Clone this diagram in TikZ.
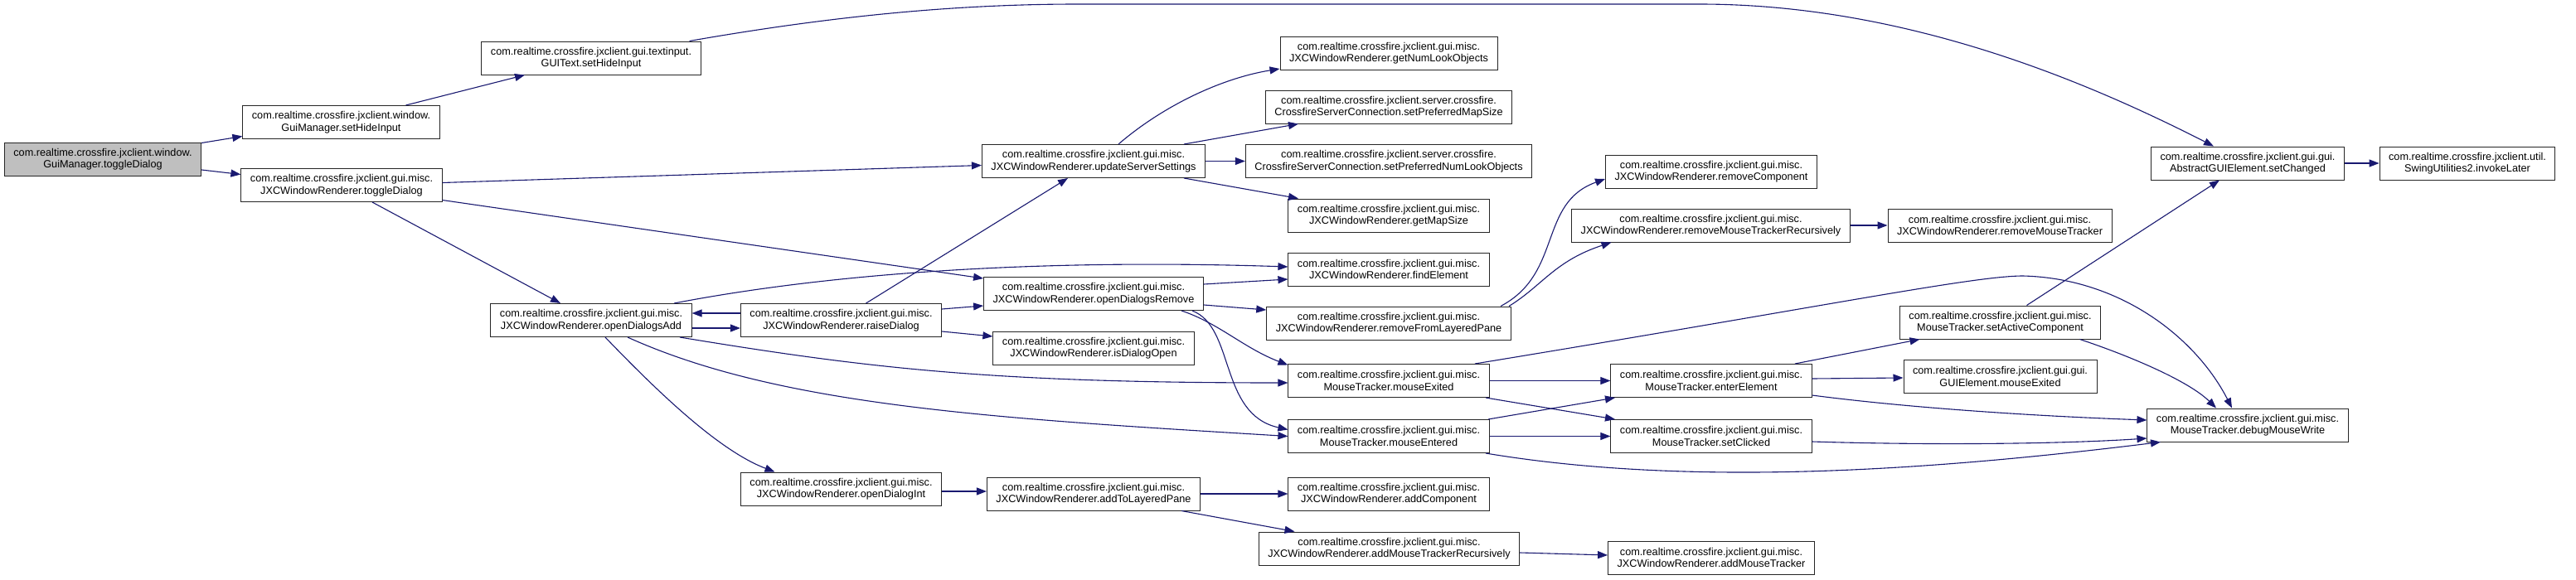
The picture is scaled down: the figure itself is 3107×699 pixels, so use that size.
\documentclass[tikz,border=0pt]{standalone}
\usepackage{fontspec}
\setmainfont{Liberation Sans}
\usepackage{xcolor}
\usepackage{tikz}
\usetikzlibrary{arrows.meta,calc}
\definecolor{edgeblue}{RGB}{25,25,112}

\begin{document}
\begin{tikzpicture}[x=1pt,y=-1pt,
      box/.style={rectangle,draw=black!85,line width=1pt,fill=white,align=center,inner xsep=11pt,inner ysep=3pt,minimum height=40pt,font=\fontsize{12.7}{14.5}\selectfont},
      startbox/.style={box,fill=black!25},
      call/.style={draw=edgeblue,line width=1.1pt,-{Triangle[length=12pt,width=9pt]}}
    ]
    \useasboundingbox (0,0) rectangle (3107,699);

    % nodes
    \node[startbox] (start) at (124,192) {com.realtime.crossfire.jxclient.window.\\GuiManager.toggleDialog};
    \node[box] (gmhide) at (411.5,147.5) {com.realtime.crossfire.jxclient.window.\\GuiManager.setHideInput};
    \node[box] (jtoggle) at (412,223.5) {com.realtime.crossfire.jxclient.gui.misc.\\JXCWindowRenderer.toggleDialog};
    \node[box] (guitext) at (713,70) {com.realtime.crossfire.jxclient.gui.textinput.\\GUIText.setHideInput};
    \node[box] (odadd) at (713,386.5) {com.realtime.crossfire.jxclient.gui.misc.\\JXCWindowRenderer.openDialogsAdd};
    \node[box] (raise) at (1014.5,386.5) {com.realtime.crossfire.jxclient.gui.misc.\\JXCWindowRenderer.raiseDialog};
    \node[box] (odint) at (1014.5,590) {com.realtime.crossfire.jxclient.gui.misc.\\JXCWindowRenderer.openDialogInt};
    \node[box] (update) at (1319,194.5) {com.realtime.crossfire.jxclient.gui.misc.\\JXCWindowRenderer.updateServerSettings};
    \node[box] (odremove) at (1319,354.5) {com.realtime.crossfire.jxclient.gui.misc.\\JXCWindowRenderer.openDialogsRemove};
    \node[box] (isopen) at (1319,420) {com.realtime.crossfire.jxclient.gui.misc.\\JXCWindowRenderer.isDialogOpen};
    \node[box] (addlp) at (1319,596) {com.realtime.crossfire.jxclient.gui.misc.\\JXCWindowRenderer.addToLayeredPane};
    \node[box] (getnum) at (1675,64) {com.realtime.crossfire.jxclient.gui.misc.\\JXCWindowRenderer.getNumLookObjects};
    \node[box] (setmap) at (1675,129) {com.realtime.crossfire.jxclient.server.crossfire.\\CrossfireServerConnection.setPreferredMapSize};
    \node[box] (setnum) at (1675,194.5) {com.realtime.crossfire.jxclient.server.crossfire.\\CrossfireServerConnection.setPreferredNumLookObjects};
    \node[box] (getmap) at (1675,260) {com.realtime.crossfire.jxclient.gui.misc.\\JXCWindowRenderer.getMapSize};
    \node[box] (find) at (1675,325) {com.realtime.crossfire.jxclient.gui.misc.\\JXCWindowRenderer.findElement};
    \node[box] (removelp) at (1675,390) {com.realtime.crossfire.jxclient.gui.misc.\\JXCWindowRenderer.removeFromLayeredPane};
    \node[box] (mexit) at (1675,459.5) {com.realtime.crossfire.jxclient.gui.misc.\\MouseTracker.mouseExited};
    \node[box] (menter) at (1675,526.5) {com.realtime.crossfire.jxclient.gui.misc.\\MouseTracker.mouseEntered};
    \node[box] (addcomp) at (1675,596) {com.realtime.crossfire.jxclient.gui.misc.\\JXCWindowRenderer.addComponent};
    \node[box] (addmtr) at (1675.5,662) {com.realtime.crossfire.jxclient.gui.misc.\\JXCWindowRenderer.addMouseTrackerRecursively};
    \node[box] (removecomp) at (2064,207) {com.realtime.crossfire.jxclient.gui.misc.\\JXCWindowRenderer.removeComponent};
    \node[box] (removemtr) at (2063.5,272) {com.realtime.crossfire.jxclient.gui.misc.\\JXCWindowRenderer.removeMouseTrackerRecursively};
    \node[box] (enter) at (2064,459.5) {com.realtime.crossfire.jxclient.gui.misc.\\MouseTracker.enterElement};
    \node[box] (clicked) at (2064,526.5) {com.realtime.crossfire.jxclient.gui.misc.\\MouseTracker.setClicked};
    \node[box] (addmt) at (2064,673) {com.realtime.crossfire.jxclient.gui.misc.\\JXCWindowRenderer.addMouseTracker};
    \node[box] (removemt) at (2412,272) {com.realtime.crossfire.jxclient.gui.misc.\\JXCWindowRenderer.removeMouseTracker};
    \node[box] (setactive) at (2412.5,389) {com.realtime.crossfire.jxclient.gui.misc.\\MouseTracker.setActiveComponent};
    \node[box] (guiexit) at (2412.5,454.5) {com.realtime.crossfire.jxclient.gui.gui.\\GUIElement.mouseExited};
    \node[box] (setchanged) at (2711,197) {com.realtime.crossfire.jxclient.gui.gui.\\AbstractGUIElement.setChanged};
    \node[box] (debug) at (2711,513) {com.realtime.crossfire.jxclient.gui.misc.\\MouseTracker.debugMouseWrite};
    \node[box] (invoke) at (2976,197) {com.realtime.crossfire.jxclient.util.\\SwingUtilities2.invokeLater};

    % calls
    \draw[call] ([yshift=-1pt]start.north east) -- ([yshift=-17pt]gmhide.west);
    \draw[call] ([yshift=-13pt]start.east) -- ([yshift=13pt]jtoggle.west);
    \draw[call] ([xshift=78pt]gmhide.north) -- ([xshift=-80pt]guitext.south);
    \draw[call] ([xshift=-14pt]guitext.north east) .. controls (1000,20) and (1150,5) .. (1300,5)
      -- (2050,5) .. controls (2300,5) and (2520,100) .. ([xshift=-41pt]setchanged.north);
    \draw[call] ([yshift=3pt]jtoggle.east) -- ([yshift=-5pt]update.west);
    \draw[call] ([yshift=-18pt]jtoggle.east) -- ([yshift=-2pt]odremove.north west);
    \draw[call] ([xshift=37pt]jtoggle.south) -- ([xshift=-37pt]odadd.north);
    \draw[call] ([yshift=-9.5pt]odadd.east) -- ([yshift=-9.5pt]raise.west);
    \draw[call] ([yshift=8.5pt]raise.west) -- ([yshift=8.5pt]odadd.east);
    \draw[call] ([xshift=30pt]raise.north) -- ([xshift=-31pt]update.south);
    \draw[call] ([yshift=13.5pt]raise.east) -- ([yshift=-14.5pt]odremove.west);
    \draw[call] ([yshift=-13.5pt]raise.east) -- ([yshift=14pt]isopen.west);
    \draw[call] ([xshift=100pt]odadd.north) .. controls (1000,330) and (1250,312) .. ([yshift=3pt]find.west);
    \draw[call] ([xshift=107pt]odadd.south) .. controls (1050,445) and (1200,462) .. ([yshift=-2.5pt]mexit.west);
    \draw[call] ([xshift=44pt]odadd.south) .. controls (940,490) and (1200,505) .. (menter.west);
    \draw[call] ([xshift=17pt]odadd.south) .. controls (800,480) and (870,545) .. ([xshift=-80pt]odint.north);
    \draw[call] ([yshift=-3pt]odint.east) -- ([yshift=3pt]addlp.west);
    \draw[call] (addlp.east) -- (addcomp.west);
    \draw[call] ([xshift=106pt]addlp.south) -- ([xshift=-114pt]addmtr.north);
    \draw[call] ([yshift=-5pt]addmtr.east) -- ([yshift=3pt]addmt.west);
    \draw[call] ([xshift=30pt]update.north) .. controls (1400,130) and (1470,95) .. ([yshift=-19pt]getnum.west);
    \draw[call] ([xshift=109pt]update.north) -- ([xshift=-109pt]setmap.south);
    \draw[call] (update.east) -- (setnum.west);
    \draw[call] ([xshift=109pt]update.south) -- ([xshift=-109pt]getmap.north);
    \draw[call] ([yshift=11.5pt]odremove.east) -- ([yshift=-12pt]find.west);
    \draw[call] ([yshift=-13.5pt]odremove.east) -- ([yshift=16pt]removelp.west);
    \draw[call] ([xshift=106pt]odremove.south) .. controls (1470,390) and (1500,420) .. ([yshift=19pt]mexit.west);
    \draw[call] ([xshift=119pt]odremove.south) .. controls (1490,395) and (1470,500) .. ([yshift=8pt]menter.west);
    \draw[call] ([xshift=135pt]removelp.north) .. controls (1885,330) and (1855,245) .. ([yshift=-9pt]removecomp.west);
    \draw[call] ([xshift=145pt]removelp.north) .. controls (1860,345) and (1875,315) .. ([xshift=-120pt]removemtr.south);
    \draw[call] (removemtr.east) -- (removemt.west);
    \draw[call] (mexit.east) -- (enter.west);
    \draw[call] ([xshift=117pt]mexit.south) -- ([xshift=-116pt]clicked.north);
    \draw[call] ([xshift=104pt]mexit.north) .. controls (2200,370) and (2380,333) .. (2440,333)
      .. controls (2560,336) and (2650,410) .. ([xshift=-19pt]debug.north);
    \draw[call] ([xshift=120pt]menter.north) -- ([xshift=-116pt]enter.south);
    \draw[call] (menter.east) -- (clicked.west);
    \draw[call] ([xshift=117pt]menter.south) .. controls (2050,590) and (2350,565) .. ([xshift=-105pt]debug.south);
    \draw[call] ([xshift=101pt]enter.north) -- ([xshift=-97pt]setactive.south);
    \draw[call] ([yshift=2.5pt]enter.east) -- ([yshift=-1.5pt]guiexit.west);
    \draw[call] ([yshift=-17.5pt]enter.east) .. controls (2300,492) and (2450,502) .. ([yshift=6pt]debug.west);
    \draw[call] ([yshift=-6.5pt]clicked.east) .. controls (2350,538) and (2500,535) .. ([yshift=-16pt]debug.west);
    \draw[call] ([xshift=32pt]setactive.north) -- ([xshift=-34pt]setchanged.south);
    \draw[call] ([xshift=96pt]setactive.south) .. controls (2570,430) and (2640,460) .. ([xshift=-38pt]debug.north);
    \draw[call] (setchanged.east) -- (invoke.west);

  \end{tikzpicture}
\end{document}
